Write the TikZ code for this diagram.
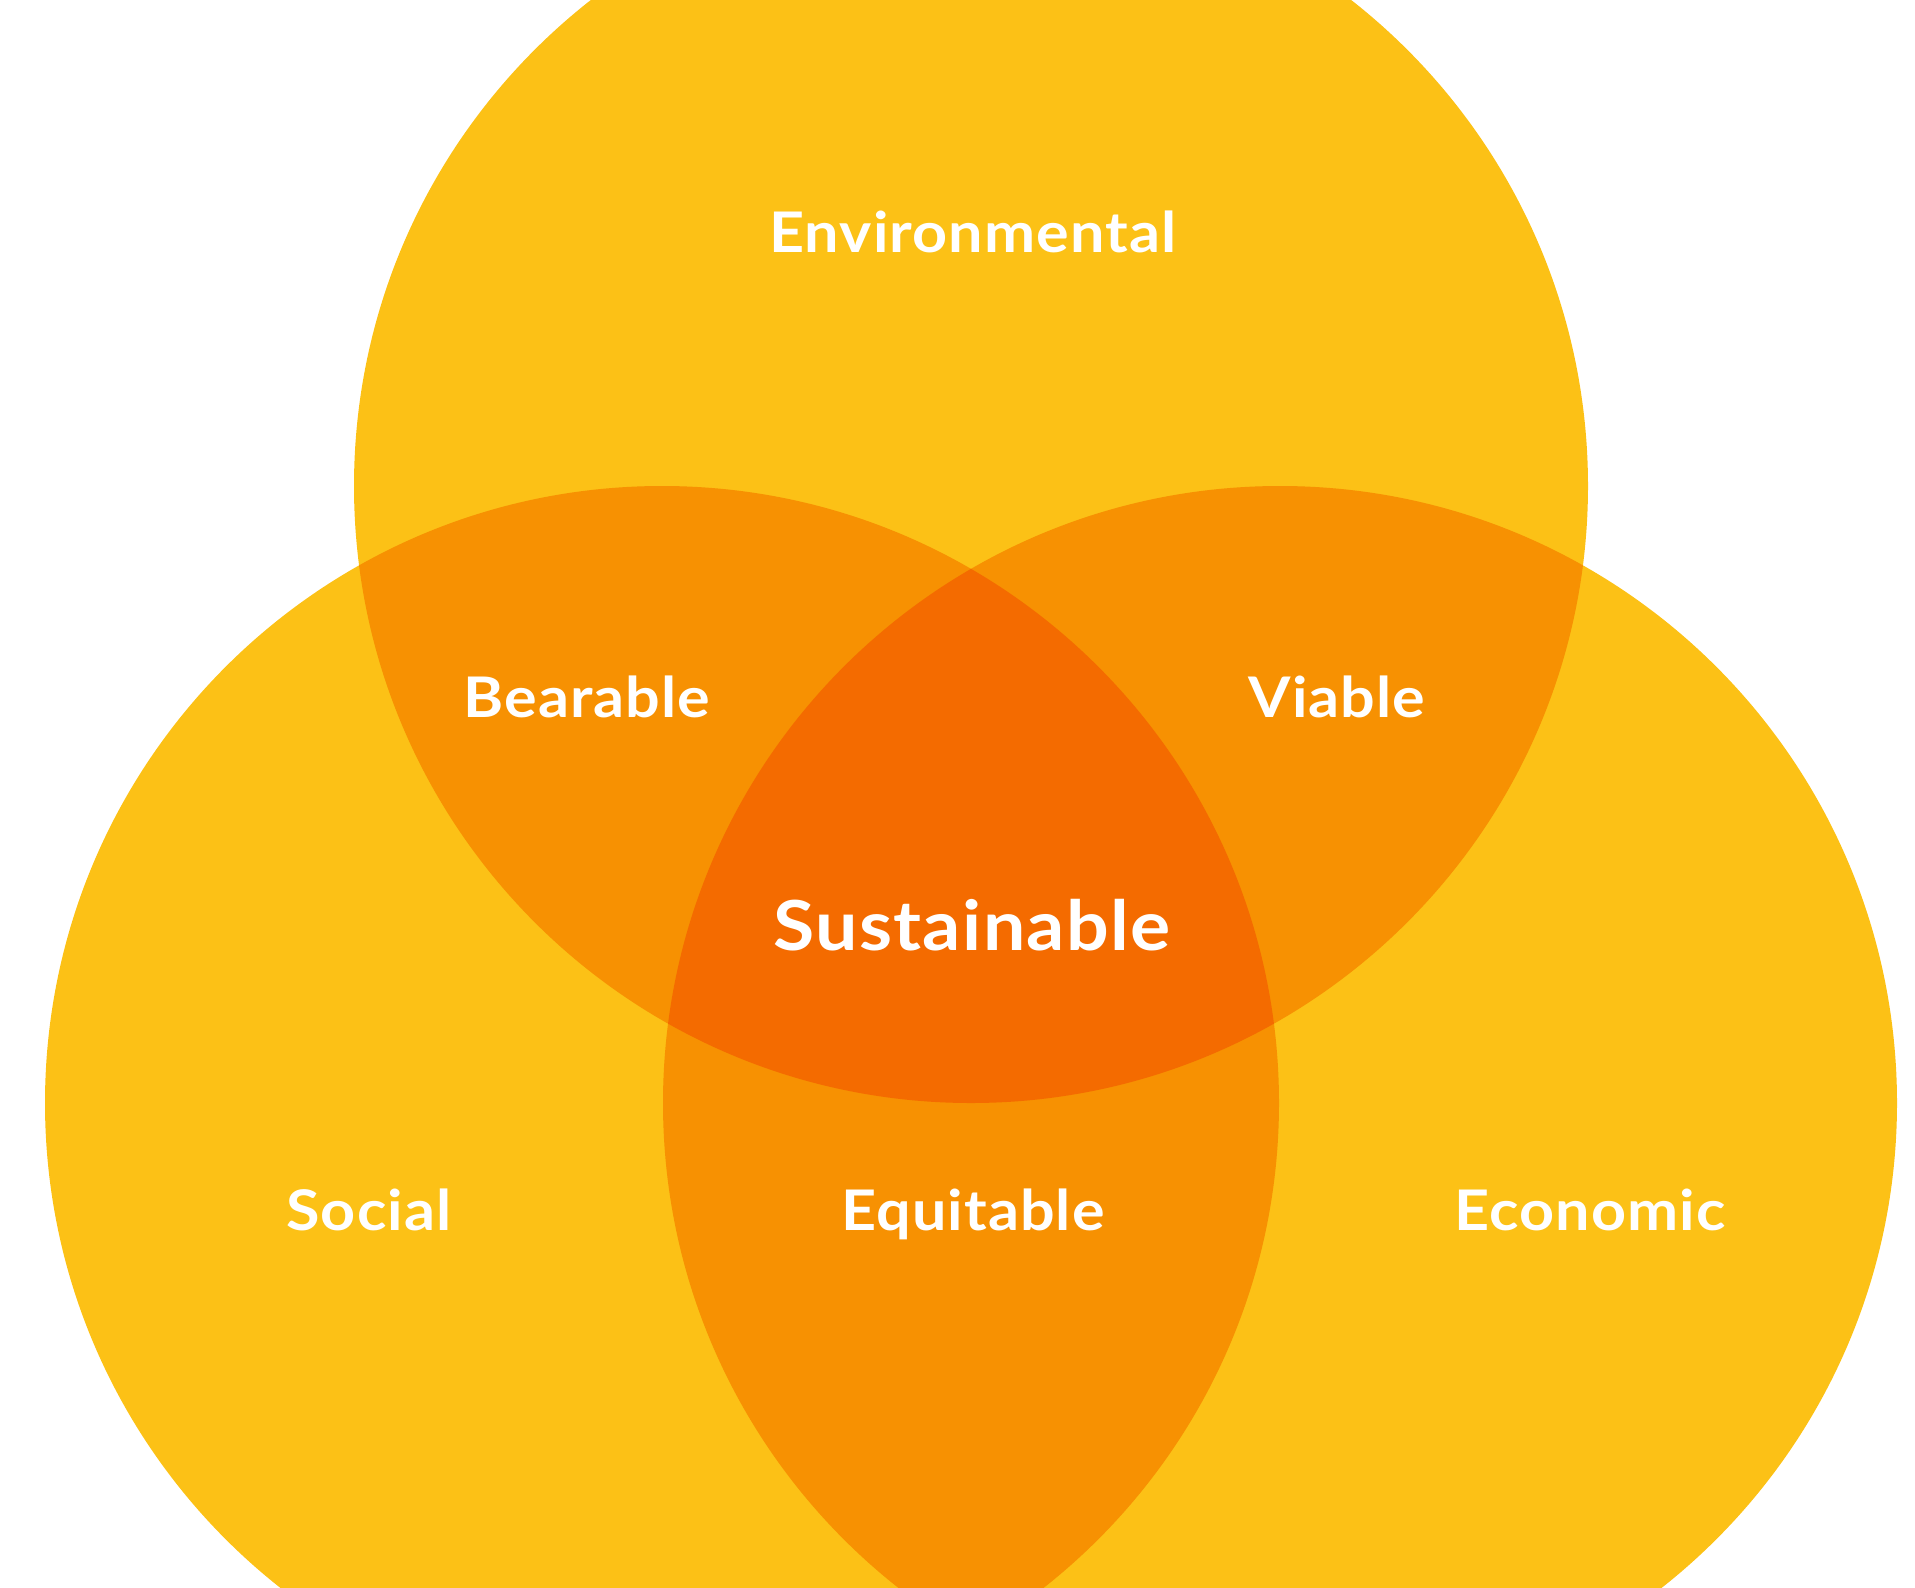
\documentclass[tikz,border=0pt]{standalone}
\usepackage{fontspec}
\setmainfont{Lato}[FakeStretch=1.09, LetterSpace=2]
\definecolor{cyel}{HTML}{FCC116}
\definecolor{corg}{HTML}{F79102}
\definecolor{cred}{HTML}{F46B00}
\tikzset{
  lab/.style={text=white, font=\fontsize{56}{60}\selectfont\bfseries, anchor=base, inner sep=0pt},
  biglab/.style={lab, font=\fontsize{69}{72}\selectfont\bfseries}
}
\begin{document}
\begin{tikzpicture}[x=1pt,y=-1pt]
\useasboundingbox (0,0) rectangle (1915,1588);
\clip (0,0) rectangle (1915,1588);
\coordinate (T) at (971,486);
\coordinate (L) at (662,1103);
\coordinate (R) at (1280,1103);
\fill[cyel] (T) circle (617pt);
\fill[cyel] (L) circle (617pt);
\fill[cyel] (R) circle (617pt);
\begin{scope}
  \clip (T) circle (617pt);
  \fill[corg] (L) circle (617pt);
  \fill[corg] (R) circle (617pt);
\end{scope}
\begin{scope}
  \clip (L) circle (617pt);
  \fill[corg] (R) circle (617pt);
\end{scope}
\begin{scope}
  \clip (T) circle (617pt);
  \clip (L) circle (617pt);
  \fill[cred] (R) circle (617pt);
\end{scope}
\node[lab] (env) at (973,252) {Environmental};
\node[lab] (bea) at (587,717) {Bearable};
\node[lab] (via) at (1337,717) {Viable};
\node[biglab] (sus) at (972,950) {Sustainable};
\node[lab] (soc) at (369,1230) {Social};
\node[lab] (equ) at (973,1230) {Equitable};
\node[lab] (eco) at (1590,1230) {Economic};
\end{tikzpicture}
\end{document}
